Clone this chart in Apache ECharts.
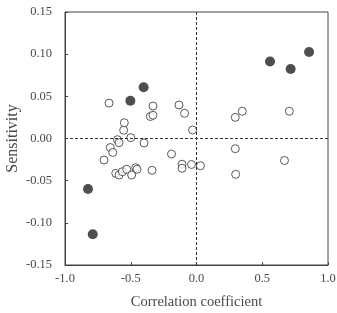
<!DOCTYPE html>
<html>
<head>
<meta charset="utf-8">
<script src="https://cdn.jsdelivr.net/npm/echarts@6/dist/echarts.min.js"></script>
<style>
    html, body { margin: 0; padding: 0; background: #fff; }
    #chart { width: 337px; height: 313px; }
</style>
</head>
<body>
<div id="chart"></div>
<script>
// open circles: [correlation coefficient, sensitivity]
const openPoints = [
    [-0.665, 0.042], [-0.331, 0.0385], [-0.133, 0.0397], [-0.091, 0.0299],
    [-0.351, 0.0261], [-0.331, 0.0276], [-0.549, 0.0187], [-0.554, 0.0098],
    [-0.030, 0.0101], [-0.500, 0.001], [-0.601, -0.0014], [-0.589, -0.005],
    [-0.399, -0.0053], [-0.656, -0.0107], [-0.637, -0.0166], [-0.703, -0.0255],
    [-0.190, -0.0184], [-0.110, -0.0305], [-0.110, -0.0353], [-0.038, -0.0308],
    [0.030, -0.0323], [-0.614, -0.0413], [-0.589, -0.0433], [-0.564, -0.0394],
    [-0.531, -0.0365], [-0.493, -0.0433], [-0.462, -0.0346], [-0.452, -0.0365],
    [-0.338, -0.0377], [0.295, 0.0251], [0.348, 0.0323], [0.706, 0.0323],
    [0.295, -0.0121], [0.669, -0.0261], [0.298, -0.0425]
];
// filled circles
const filledPoints = [
    [0.559, 0.0913], [0.716, 0.0824], [0.856, 0.1026],
    [-0.503, 0.0448], [-0.402, 0.0607],
    [-0.825, -0.0599], [-0.789, -0.1136]
];
const xTicks = [-1.0, -0.5, 0.0, 0.5, 1.0];
const yTicks = [-0.15, -0.10, -0.05, 0.00, 0.05, 0.10, 0.15];

const chart = echarts.init(document.getElementById('chart'));
const font = '"Liberation Serif", "DejaVu Serif", serif';
const textColor = '#4a4a4a';

chart.setOption({
    animation: false,
    grid: {
        left: 65, right: 9, top: 12, bottom: 48,
        outerBoundsMode: 'none',
        show: true, borderColor: '#444', borderWidth: 1
    },
    xAxis: {
        type: 'value',
        min: xTicks[0], max: xTicks[xTicks.length - 1], interval: 0.5,
        name: 'Correlation coefficient',
        nameLocation: 'middle', nameGap: 30, nameMoveOverlap: false,
        nameTextStyle: { fontFamily: font, fontSize: 14.5, color: textColor },
        axisLine: { show: true, onZero: false, lineStyle: { color: '#444' } },
        axisTick: { show: true, inside: true, length: 3, lineStyle: { color: '#444' } },
        axisLabel: {
            fontFamily: font, fontSize: 12.5, color: textColor, margin: 7,
            formatter: v => v.toFixed(1)
        },
        splitLine: { show: false }
    },
    yAxis: {
        type: 'value',
        min: yTicks[0], max: yTicks[yTicks.length - 1], interval: 0.05,
        name: 'Sensitivity',
        nameLocation: 'middle', nameGap: 44, nameRotate: 90, nameMoveOverlap: false,
        nameTextStyle: { fontFamily: font, fontSize: 16, color: textColor },
        axisLine: { show: true, onZero: false, lineStyle: { color: '#444' } },
        axisTick: { show: true, inside: true, length: 3, lineStyle: { color: '#444' } },
        axisLabel: {
            fontFamily: font, fontSize: 12.5, color: textColor, margin: 13,
            formatter: v => v.toFixed(2)
        },
        splitLine: { show: false }
    },
    series: [
        {
            type: 'scatter',
            data: openPoints,
            symbol: 'circle',
            symbolSize: 8,
            itemStyle: { color: '#fff', borderColor: '#333', borderWidth: 1 },
            markLine: {
                silent: true,
                symbol: 'none',
                label: { show: false },
                lineStyle: { type: [3, 2], color: '#333', width: 1 },
                data: [{ xAxis: 0 }, { yAxis: 0 }]
            }
        },
        {
            type: 'scatter',
            data: filledPoints,
            symbol: 'circle',
            symbolSize: 10,
            itemStyle: { color: '#222' }
        }
    ]
});
</script>
</body>
</html>
